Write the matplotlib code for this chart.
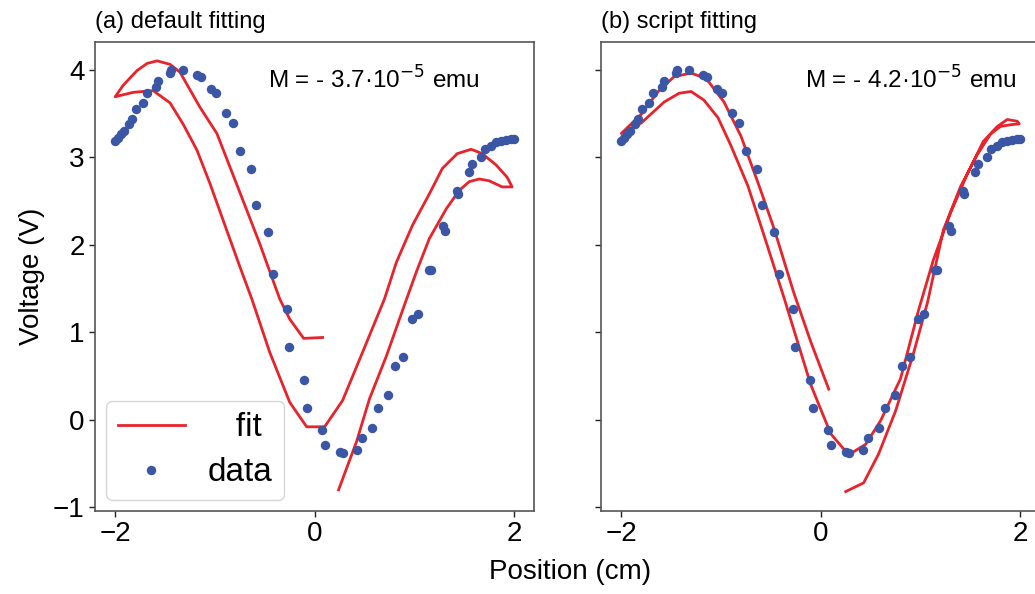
import matplotlib
matplotlib.use("Agg")
import matplotlib.pyplot as plt

plt.rcParams["font.family"] = ["Liberation Sans", "DejaVu Sans"]

# measured data (same scan in both panels)
data_x = [-2.00, -1.97, -1.94, -1.91, -1.86, -1.83, -1.79, -1.72, -1.68, -1.59,
          -1.57, -1.45, -1.44, -1.32, -1.18, -1.14, -1.04, -0.99, -0.89, -0.82,
          -0.75, -0.64, -0.59, -0.47, -0.42, -0.28, -0.26, -0.11, -0.08, 0.07,
          0.10, 0.25, 0.28, 0.42, 0.47, 0.58, 0.64, 0.74, 0.81, 0.89,
          0.98, 1.04, 1.15, 1.17, 1.29, 1.31, 1.43, 1.44, 1.55, 1.58,
          1.67, 1.71, 1.77, 1.82, 1.87, 1.92, 1.97, 2.00]
data_y = [3.18, 3.22, 3.26, 3.30, 3.38, 3.44, 3.55, 3.62, 3.73, 3.80,
          3.87, 3.96, 3.99, 4.00, 3.94, 3.92, 3.78, 3.73, 3.50, 3.39,
          3.07, 2.87, 2.45, 2.14, 1.67, 1.27, 0.83, 0.46, 0.13, -0.12,
          -0.29, -0.37, -0.38, -0.34, -0.21, -0.09, 0.14, 0.28, 0.61, 0.72,
          1.15, 1.21, 1.71, 1.71, 2.21, 2.16, 2.61, 2.58, 2.83, 2.92,
          3.00, 3.09, 3.13, 3.17, 3.19, 3.20, 3.21, 3.21]

# (a) default fitting
fit_a_x = [0.08, -0.11, -0.25, -0.35, -0.55, -0.72, -0.85, -0.98, -1.15, -1.35,
           -1.45, -1.58, -1.68, -1.78, -1.92, -2.00, -1.82, -1.62, -1.45, -1.32,
           -1.18, -1.05, -0.88, -0.75, -0.63, -0.45, -0.25, -0.08, 0.10, 0.28,
           0.48, 0.70, 0.82, 0.98, 1.15, 1.28, 1.43, 1.57, 1.68, 1.82,
           1.93, 1.98, 1.88, 1.75, 1.65, 1.55, 1.45, 1.32, 1.15, 1.02,
           0.90, 0.72, 0.55, 0.42, 0.24]
fit_a_y = [0.94, 0.93, 1.15, 1.38, 2.01, 2.51, 2.89, 3.27, 3.57, 3.97,
           4.06, 4.10, 4.07, 3.99, 3.82, 3.69, 3.74, 3.76, 3.62, 3.38,
           3.08, 2.70, 2.16, 1.75, 1.38, 0.77, 0.20, -0.08, -0.08, 0.22,
           0.77, 1.38, 1.80, 2.22, 2.58, 2.87, 3.04, 3.09, 3.04, 2.91,
           2.77, 2.66, 2.66, 2.73, 2.75, 2.72, 2.62, 2.41, 2.07, 1.69,
           1.31, 0.73, 0.24, -0.25, -0.80]

# (b) script fitting
fit_b_x = [0.08, -0.10, -0.27, -0.47, -0.63, -0.80, -0.97, -1.15, -1.30, -1.47,
           -1.63, -1.80, -2.00, -1.80, -1.57, -1.42, -1.30, -1.17, -1.03, -0.90,
           -0.73, -0.57, -0.37, -0.10, 0.10, 0.28, 0.45, 0.60, 0.80, 0.98,
           1.13, 1.30, 1.47, 1.63, 1.77, 1.87, 1.97, 1.99, 1.90, 1.80,
           1.70, 1.57, 1.40, 1.23, 1.07, 0.93, 0.75, 0.58, 0.43, 0.25]
fit_b_y = [0.35, 0.89, 1.45, 2.19, 2.71, 3.24, 3.63, 3.90, 3.96, 3.92,
           3.75, 3.49, 3.27, 3.39, 3.63, 3.73, 3.75, 3.65, 3.45, 3.13,
           2.67, 2.11, 1.40, 0.40, -0.16, -0.40, -0.28, -0.01, 0.47, 1.25,
           1.83, 2.36, 2.81, 3.18, 3.35, 3.43, 3.41, 3.38, 3.37, 3.35,
           3.26, 3.03, 2.66, 2.17, 1.34, 0.76, 0.10, -0.39, -0.72, -0.82]

titles = ["(a) default fitting", "(b) script fitting"]
moments = ["M = - 3.7·10$^{-5}$ emu", "M = - 4.2·10$^{-5}$ emu"]
fits = [(fit_a_x, fit_a_y), (fit_b_x, fit_b_y)]

red = "#e8232b"
blue = "#3a56a5"

fig = plt.figure(figsize=(10.35, 5.94), dpi=100)
ax1 = fig.add_axes([0.092, 0.140, 0.424, 0.790])
ax2 = fig.add_axes([0.581, 0.140, 0.424, 0.790], sharey=ax1)
axes = [ax1, ax2]

for i, ax in enumerate(axes):
    fx, fy = fits[i]
    ax.plot(fx, fy, color=red, lw=2.0, label="   fit")
    ax.plot(data_x, data_y, "o", color=blue, ms=6.8, mec="none", label="data")
    ax.set_xlim(-2.2, 2.2)
    ax.set_ylim(-1.04, 4.32)
    ax.set_xticks([-2, 0, 2])
    ax.set_yticks([-1, 0, 1, 2, 3, 4])
    ax.tick_params(labelsize=20, length=4, width=1, colors="#222222",
                   labelcolor="black")
    for sp in ax.spines.values():
        sp.set_color("#555555")
        sp.set_linewidth(1.2)
    ax.set_title(titles[i], loc="left", fontsize=17, pad=10)
    ax.text(0.394 if i == 0 else 0.465, 0.919, moments[i], transform=ax.transAxes,
            fontsize=17.5, va="center", ha="left")

ax2.tick_params(labelleft=False)
ax1.set_ylabel("Voltage (V)", fontsize=20, labelpad=6)
fig.text(0.551, 0.037, "Position (cm)", fontsize=20, ha="center", va="center")

leg = ax1.legend(loc="lower left", fontsize=24, handlelength=2.0,
                 handletextpad=0.7, borderaxespad=0.33, borderpad=0.35,
                 labelspacing=0.42, markerscale=1.0)

fig.savefig("out.png", dpi=100)
